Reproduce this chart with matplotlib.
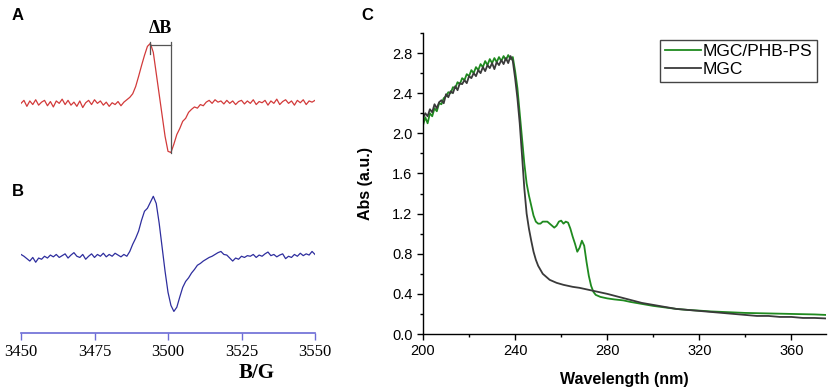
import numpy as np
import matplotlib
matplotlib.use("Agg")
import matplotlib.pyplot as plt
from matplotlib.ticker import MultipleLocator

# EPR spectra (panels A and B), field in G, 1 G steps, signal in arbitrary units
field = np.arange(3450, 3551)
epr_a = [0.0, 0.05, -0.05, 0.04, -0.02, 0.06, -0.03, 0.02, 0.05, -0.04, 0.03, -0.06,
         0.04, 0.0, 0.07, -0.02, 0.05, -0.03, 0.02, -0.05, 0.04, -0.07, 0.01, 0.05,
         -0.02, 0.06, 0.0, 0.04, -0.03, 0.02, -0.05, 0.01, -0.02, 0.03, -0.04, 0.02, 0.06,
         0.1, 0.16, 0.28, 0.45, 0.63, 0.8, 0.95, 1.0, 0.85, 0.5, 0.15, -0.2, -0.55,
         -0.8, -0.82, -0.68, -0.52, -0.42, -0.3, -0.25, -0.15, -0.1, -0.06, -0.08, -0.02,
         -0.04, 0.02,
         0.05, 0.0, 0.06, 0.02, 0.04, -0.01, 0.05, 0.0, 0.04, -0.02, 0.03, 0.05, -0.01,
         0.04, 0.0, 0.06, -0.02, 0.03, 0.01, 0.05, -0.03, 0.04, 0.0, 0.07, -0.02, 0.03,
         0.06, 0.0, 0.04, -0.03, 0.05, 0.01, 0.06, -0.02, 0.04, 0.02, 0.05]
epr_b = [0.03, 0.0, -0.04, -0.08, -0.02, -0.1, -0.03, -0.05, 0.0, -0.03, 0.02, -0.01,
         0.03, -0.02, 0.01, 0.04, -0.03, 0.02, 0.06, 0.0, -0.02, 0.03, -0.05, 0.0, 0.04,
         -0.02, 0.03, 0.0, 0.05, -0.01, 0.03, 0.0, 0.05, 0.02, -0.01, 0.03, 0.0,
         0.08, 0.2, 0.3, 0.42, 0.6, 0.75, 0.8, 0.9, 1.0, 0.88, 0.55, 0.15, -0.25, -0.6,
         -0.82, -0.92, -0.85, -0.68, -0.52, -0.42, -0.36, -0.28, -0.22, -0.15, -0.12,
         -0.08, -0.05, -0.02,
         0.0, 0.03, 0.06, 0.08, 0.03, 0.02, -0.03, -0.08, -0.03, -0.05, 0.0, -0.02, 0.01,
         0.0, 0.03, -0.02, 0.02, 0.0, 0.04, 0.07, 0.01, 0.03, -0.01, 0.02, 0.04, -0.04,
         0.0, -0.02, 0.03, 0.0, 0.05, 0.01, 0.04, 0.02, 0.08, 0.03]
epr_ticks = [3450, 3475, 3500, 3525, 3550]

# UV-vis spectra (panel C)
wl_mgc = list(range(200, 251)) + [252, 255, 258, 261, 265, 268, 272, 276, 280, 285,
                                  290, 295, 300, 305, 310, 315, 320, 325, 330, 335,
                                  340, 345, 350, 355, 360, 365, 370, 375]
abs_mgc = [2.15, 2.2, 2.17, 2.24, 2.21, 2.29, 2.25, 2.31, 2.33, 2.3, 2.39, 2.36, 2.42,
           2.4, 2.47, 2.43, 2.5, 2.49, 2.53, 2.5, 2.57, 2.55, 2.6, 2.57, 2.63, 2.6, 2.66,
           2.62, 2.68, 2.65, 2.7, 2.64, 2.71, 2.68, 2.73, 2.69, 2.75, 2.7, 2.77, 2.72, 2.55,
           2.35, 2.1, 1.78, 1.45, 1.2, 1.05, 0.93, 0.82, 0.74, 0.68,
           0.6, 0.54, 0.51, 0.49, 0.47, 0.46, 0.44, 0.42, 0.40, 0.37,
           0.34, 0.31, 0.29, 0.27, 0.25, 0.24, 0.23, 0.22, 0.21, 0.20,
           0.19, 0.18, 0.18, 0.17, 0.17, 0.16, 0.16, 0.155]
wl_phb = list(range(200, 276)) + [277, 280, 283, 287, 290, 295, 300, 305, 310, 315,
                                  320, 325, 330, 340, 350, 360, 370, 375]
abs_phb = [2.08, 2.16, 2.1, 2.2, 2.17, 2.25, 2.22, 2.3, 2.29, 2.35, 2.37, 2.41, 2.4,
           2.46, 2.45, 2.51, 2.49, 2.55, 2.53, 2.59, 2.57, 2.63, 2.6, 2.66, 2.63, 2.69,
           2.66, 2.72, 2.68, 2.74, 2.7, 2.75, 2.71, 2.76, 2.72, 2.77, 2.73, 2.78, 2.74,
           2.76, 2.62,
           2.45, 2.2, 1.95, 1.7, 1.5, 1.38, 1.28, 1.18, 1.12, 1.1, 1.1, 1.12, 1.12, 1.12,
           1.1, 1.08, 1.06, 1.08, 1.12, 1.13, 1.1, 1.12, 1.11, 1.05, 0.97, 0.9, 0.82,
           0.86, 0.93, 0.88, 0.72, 0.58, 0.48, 0.42, 0.39,
           0.37, 0.355, 0.345, 0.335, 0.32, 0.30, 0.28, 0.265, 0.25, 0.24,
           0.233, 0.225, 0.22, 0.21, 0.205, 0.2, 0.195, 0.19]

serif = "Liberation Serif"
sans = "Liberation Sans"

fig = plt.figure(figsize=(8.29, 3.92), dpi=100)

# ---- left panel: A and B stacked in one axes ----
axl = fig.add_axes([21 / 829, 1 - 333 / 392, 294 / 829, 313 / 392])
off_a, off_b = 3.83, 1.28
axl.plot(field, np.array(epr_a) + off_a, color="#d23a3a", lw=0.9)
axl.plot(field, np.array(epr_b) + off_b, color="#2e2e9e", lw=0.9)
axl.set_xlim(3450, 3550)
axl.set_ylim(0, 5.22)
axl.set_yticks([])
for s in ["top", "right", "left"]:
    axl.spines[s].set_visible(False)
axl.spines["bottom"].set_color("#6b6bd6")
axl.spines["bottom"].set_linewidth(1.2)
axl.set_xticks(epr_ticks)
axl.tick_params(axis="x", direction="out", length=5, width=1, color="#6b6bd6",
                labelsize=12, pad=3)
for lab in axl.get_xticklabels():
    lab.set_fontfamily(serif)

# delta B bracket from peak to trough of trace A
ia, it = int(np.argmax(epr_a)), int(np.argmin(epr_a))
xp, xt = field[ia], field[it]
ytop = epr_a[ia] + off_a
axl.plot([xp, xp], [ytop + 0.03, ytop - 0.18], color="#555555", lw=0.9)
axl.plot([xp, xt], [ytop - 0.02, ytop - 0.02], color="#555555", lw=0.9)
axl.plot([xt, xt], [ytop + 0.03, epr_a[it] + off_a], color="#555555", lw=0.9)
axl.text((xp + xt) / 2, ytop + 0.1, "ΔB", family=serif, fontweight="bold",
         fontsize=13, ha="center", va="bottom")

fig.text(12 / 829, 1 - 15 / 392, "A", family=sans, fontweight="bold", fontsize=12,
         va="center", ha="left")
fig.text(12 / 829, 1 - 191 / 392, "B", family=sans, fontweight="bold", fontsize=12,
         va="center", ha="left")
fig.text(257 / 829, 1 - 373 / 392, "B/G", family=serif, fontweight="bold", fontsize=15,
         va="center", ha="center")

# ---- right panel: UV-vis ----
axr = fig.add_axes([423 / 829, 1 - 334 / 392, 403 / 829, 301 / 392])
axr.plot(wl_phb, abs_phb, color="#1f8a1f", lw=1.3, label="MGC/PHB-PS")
axr.plot(wl_mgc, abs_mgc, color="#3a3a3a", lw=1.3, label="MGC")
axr.set_xlim(200, 375)
axr.set_ylim(0, 3.0)
axr.xaxis.set_major_locator(MultipleLocator(40))
axr.xaxis.set_minor_locator(MultipleLocator(20))
axr.yaxis.set_major_locator(MultipleLocator(0.4))
axr.yaxis.set_minor_locator(MultipleLocator(0.2))
axr.yaxis.set_major_formatter(matplotlib.ticker.FormatStrFormatter("%.1f"))
for s in ["top", "right"]:
    axr.spines[s].set_visible(False)
for s in ["left", "bottom"]:
    axr.spines[s].set_linewidth(1.0)
axr.tick_params(which="major", direction="out", length=4, width=1, labelsize=10.5)
axr.tick_params(which="minor", direction="out", length=2.5, width=1)
for lab in axr.get_xticklabels() + axr.get_yticklabels():
    lab.set_fontfamily(sans)
axr.set_xlabel("Wavelength (nm)", family=sans, fontweight="bold", fontsize=11.5,
               labelpad=10)
axr.set_ylabel("Abs (a.u.)", family=sans, fontweight="bold", fontsize=11.5, labelpad=14)

leg = axr.legend(loc="upper right", bbox_to_anchor=(817 / 829, 1 - 40 / 392),
                 bbox_transform=fig.transFigure, fancybox=False, framealpha=1,
                 edgecolor="#444444", prop={"family": sans, "size": 12.5},
                 handlelength=2.1, handletextpad=0.1, borderpad=0.25,
                 labelspacing=0.15, borderaxespad=0)
leg.get_frame().set_linewidth(1.0)

fig.text(367 / 829, 1 - 15 / 392, "C", family=sans, fontweight="bold", fontsize=12,
         va="center", ha="center")

fig.savefig("out.png", dpi=100)
